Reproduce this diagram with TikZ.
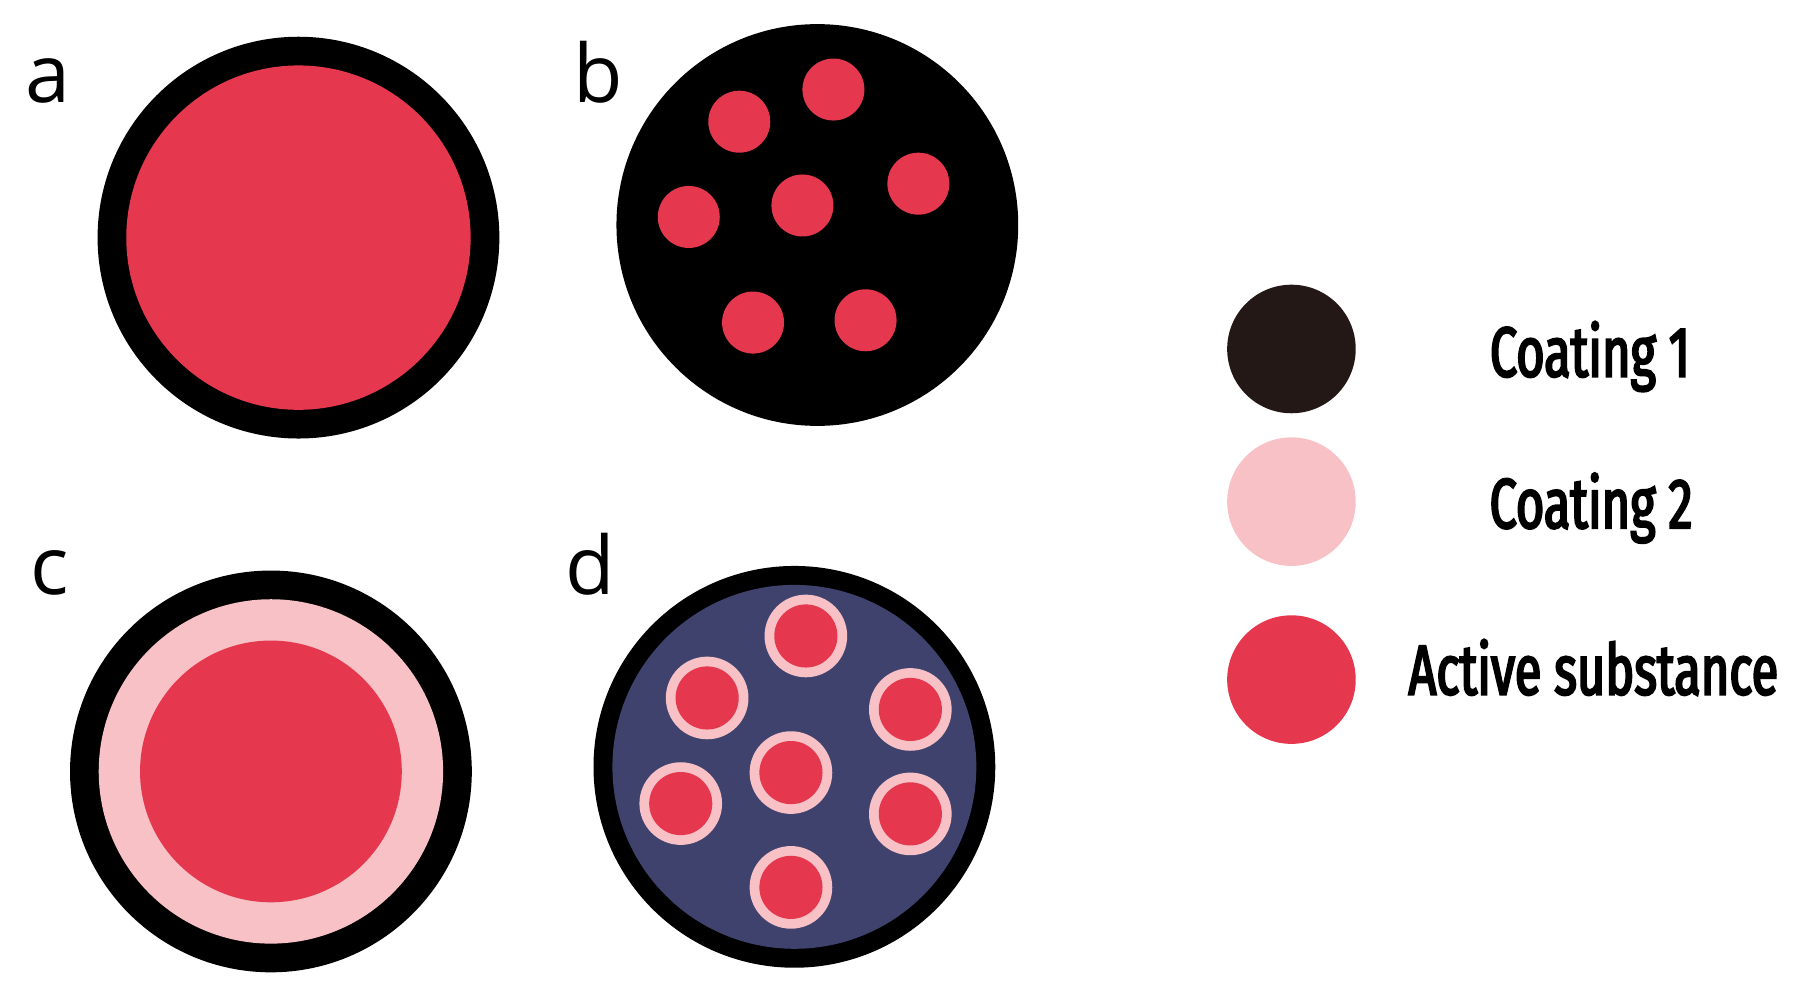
\documentclass[tikz,border=0pt]{standalone}
\usepackage{fontspec}
\usepackage{tikz}
\usetikzlibrary{positioning}
\newfontfamily\tagfont{Open Sans}
\newfontfamily\keyfont[FakeStretch=0.69,FakeBold=3]{Fira Sans}
\definecolor{coreRed}{HTML}{E5374D}
\definecolor{shellPink}{HTML}{F7C1C6}
\definecolor{gelNavy}{HTML}{40426E}
\definecolor{coatBlack}{HTML}{231815}
\tikzset{tag/.style={font=\tagfont\fontsize{20}{24}\selectfont,anchor=base,inner sep=0pt},
  key/.style={circle,minimum size=11.2mm,inner sep=0pt},
  keytext/.style={font=\keyfont\fontsize{17.5}{21}\selectfont,anchor=base,inner sep=0pt}}

\begin{document}
\begin{tikzpicture}[x=0.1mm,y=-0.1mm]
    \useasboundingbox (0,0) rectangle (1568,865);
    \def\R{175}
    \fill (260,207) circle (\R);
    \fill[coreRed] (260,207) circle (150);
    \node[tag] (la) at (42,89) {a};
    \fill (712,196) circle (\R);
    \foreach \p in {(644,106),(726,78),(800,160),(699,179),(600,189),(656,281),(754,279)}
        \fill[coreRed] \p circle (27);
    \node[tag] (lb) at (521,89) {b};
    \fill (236,672) circle (\R);
    \fill[shellPink] (236,672) circle (150);
    \fill[coreRed] (236,672) circle (114);
    \node[tag] (lc) at (43,518) {c};
    \fill (692,668) circle (\R);
    \fill[gelNavy] (692,668) circle (158.5);
    \foreach \p in {(702,554),(616,608),(793,618),(689,673),(593,700),(793,709),(689,773)}{
        \fill[shellPink] \p circle (36);
        \fill[coreRed] \p circle (27.5);
    }
    \node[tag] (ld) at (514,518) {d};
    \node[key,fill=coatBlack] (k1) at (1125,304) {};
    \node[key,fill=shellPink] (k2) at (1125,437) {};
    \node[key,fill=coreRed] (k3) at (1125,592) {};
    \node[keytext] (t1) at (1385,328) {Coating 1};
    \node[keytext] (t2) at (1386,460) {Coating 2};
    \node[keytext] (t3) at (1388,605) {Active substance};
\end{tikzpicture}
\end{document}
